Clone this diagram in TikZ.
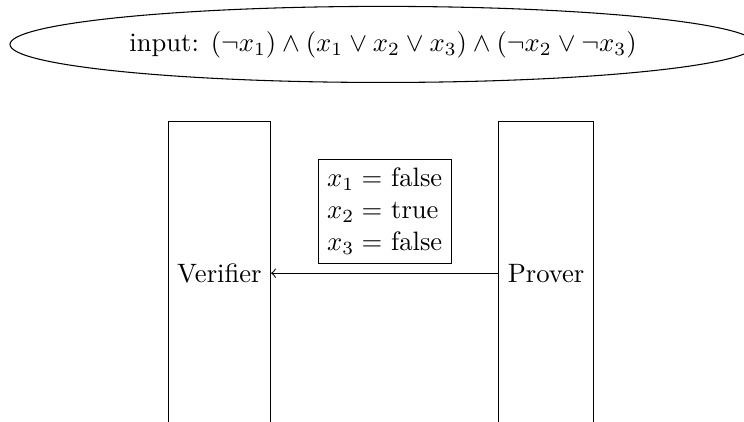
\documentclass[tikz,border=0pt]{standalone}
\usetikzlibrary{shapes.geometric}
\tikzset{
    party/.style={draw, minimum height=113.8pt},
    claim/.style={draw, align=left},
    statement/.style={draw, ellipse, minimum width=280.5pt, minimum height=28.6pt},
    msg/.style={->},
}
\begin{document}
\begin{tikzpicture}
    \useasboundingbox (0,0) rectangle (279.7pt,158.3pt);

    \node[statement] (formula) at (144.0pt,141.6pt)
        {input: $(\neg x_1) \wedge (x_1 \vee x_2 \vee x_3) \wedge (\neg x_2 \vee \neg x_3)$};

    \node[party] (verifier) at (82.5pt,55.6pt) {Verifier};
    \node[party] (prover) at (205.3pt,55.6pt) {Prover};

    \draw[msg] (prover) -- node[claim, above=3.4pt] (assignment)
        {$x_1 =$ false\\ $x_2 =$ true\\ $x_3 =$ false} (verifier);
\end{tikzpicture}
\end{document}
